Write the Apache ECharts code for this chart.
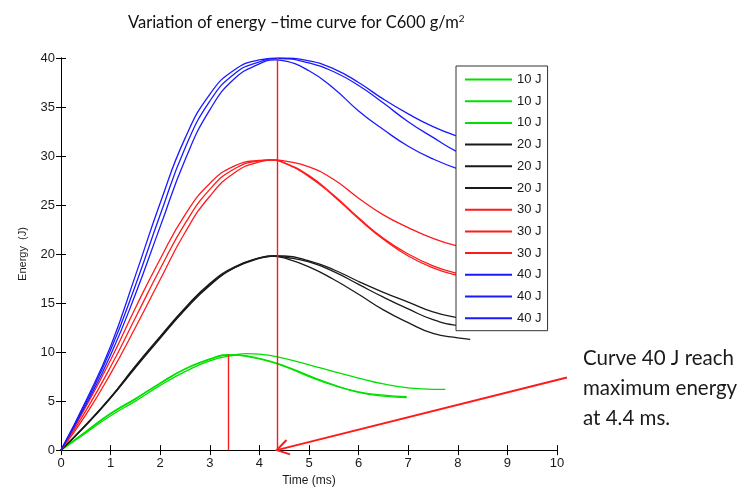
<!DOCTYPE html>
<html><head><meta charset="utf-8">
<script src="https://cdn.jsdelivr.net/npm/echarts@6/dist/echarts.min.js"></script>
<style>html,body{margin:0;padding:0;background:#fff}#c{width:744px;height:492px}</style>
</head><body><div id="c"></div>
<script>
// ---- data (time in ms, energy in J) ----
const green1 = [[0,0],[0.5,1.9],[1,3.75],[1.5,5.25],[2,6.85],[2.5,8.3],[3,9.3],[3.35,9.75],[3.5,9.72],[4,9.3],[4.5,8.55],[5,7.5],[5.5,6.6],[6,5.95],[6.5,5.6],[6.97,5.45]];
const green2 = [[0,0],[0.5,1.85],[1,3.7],[1.5,5.2],[2,6.8],[2.5,8.25],[3,9.25],[3.4,9.7],[3.6,9.68],[4,9.35],[4.5,8.6],[5,7.6],[5.5,6.65],[6,5.9],[6.5,5.5],[6.97,5.35]];
const green3 = [[0,0],[0.5,1.75],[1,3.5],[1.5,5.0],[2,6.6],[2.5,8.0],[3,9.1],[3.5,9.7],[3.75,9.85],[4,9.8],[4.5,9.35],[5,8.7],[5.5,8.0],[6,7.35],[6.5,6.75],[7,6.35],[7.5,6.2],[7.75,6.2]];
const black1 = [[0,0],[0.5,2.6],[1,5.4],[1.5,8.6],[2,11.6],[2.5,14.5],[3,17.0],[3.5,18.7],[4,19.6],[4.3,19.8],[4.5,19.8],[5,19.3],[5.5,18.4],[6,17.2],[6.5,16.1],[7,15.1],[7.5,14.1],[8,13.5],[8.5,13.1]];
const black2 = [[0,0],[0.5,2.55],[1,5.35],[1.5,8.5],[2,11.5],[2.5,14.4],[3,16.9],[3.5,18.6],[4,19.55],[4.3,19.8],[4.5,19.7],[5,19.2],[5.5,18.2],[6,16.9],[6.5,15.6],[7,14.4],[7.5,13.3],[8,12.7],[8.7,12.4]];
const black3 = [[0,0],[0.5,2.5],[1,5.3],[1.5,8.4],[2,11.4],[2.5,14.3],[3,16.8],[3.5,18.6],[4,19.6],[4.25,19.8],[4.5,19.6],[5,18.7],[5.5,17.4],[6,15.9],[6.5,14.3],[7,13.0],[7.5,11.9],[8,11.45],[8.25,11.3]];
const red1 = [[0,0],[0.5,4.4],[1,9.2],[1.5,14.5],[2,19.5],[2.5,24.0],[3,27.2],[3.5,29.0],[4,29.55],[4.2,29.6],[4.5,29.3],[5,28.0],[5.5,26.0],[6,23.7],[6.5,21.6],[7,20.0],[7.5,18.8],[8,18.0],[8.5,17.5]];
const red2 = [[0,0],[0.5,4.0],[1,8.5],[1.5,13.5],[2,18.5],[2.5,23.1],[3,26.6],[3.5,28.7],[4,29.5],[4.25,29.6],[4.5,29.3],[5,27.9],[5.5,25.9],[6,23.6],[6.5,21.5],[7,19.8],[7.5,18.6],[8,17.8],[8.5,17.3]];
const red3 = [[0,0],[0.5,3.6],[1,7.8],[1.5,12.5],[2,17.4],[2.5,22.2],[3,25.9],[3.5,28.3],[4,29.4],[4.3,29.6],[4.5,29.5],[5,28.9],[5.5,27.6],[6,25.7],[6.5,24.0],[7,22.7],[7.5,21.6],[8,20.8],[8.5,20.3]];
const blue1 = [[0,0],[0.5,5.0],[1,10.6],[1.5,17.8],[2,25.2],[2.5,31.8],[3,36.3],[3.5,38.8],[4,39.8],[4.4,40.0],[5,39.7],[5.5,38.9],[6,37.5],[6.5,35.8],[7,34.3],[7.5,33.0],[8,32.0],[8.5,31.2]];
const blue2 = [[0,0],[0.5,4.8],[1,10.2],[1.5,16.8],[2,24.0],[2.5,30.8],[3,35.6],[3.5,38.4],[4,39.6],[4.4,39.95],[5,39.5],[5.5,38.6],[6,37.2],[6.5,35.4],[7,33.5],[7.5,31.9],[8,30.4],[8.5,29.3]];
const blue3 = [[0,0],[0.5,4.6],[1,9.7],[1.5,15.9],[2,22.8],[2.5,29.6],[3,34.7],[3.5,37.9],[4,39.4],[4.3,39.8],[4.5,39.7],[5,38.7],[5.5,36.9],[6,34.6],[6.5,32.7],[7,31.0],[7.5,29.7],[8,28.7],[8.5,28.0]];

const legendNames = ['10 J','10 J','10 J','20 J','20 J','20 J','30 J','30 J','30 J','40 J','40 J','40 J'];
const seriesData = [green1, green2, green3, black1, black2, black3, red1, red2, red3, blue1, blue2, blue3];
const groupColors = ['#00e000','#00e000','#00e000','#1a1a1a','#1a1a1a','#1a1a1a','#ff1a1a','#ff1a1a','#ff1a1a','#1a1aff','#1a1aff','#1a1aff'];

const titleText = 'Variation of energy \u2013time curve for C600 g/m';
const peakTime = 4.35;           // red marker line for 40 J maximum
const greenPeak = [3.37, 9.75];  // red marker line for 10 J maximum
const arrowTail = [10.2, 7.4];
const arrowHead = [4.35, 0];
const noteLines = ['Curve 40 J reach', 'maximum energy', 'at 4.4 ms.'];

// ---- chart ----
const chart = echarts.init(document.getElementById('c'));
const FONT = '"Liberation Sans", Arial, sans-serif';
const series = seriesData.map((d, i) => ({
  name: legendNames[i] + '#' + i,
  type: 'line',
  data: d,
  symbol: 'none',
  showSymbol: false,
  smooth: 0.5,
  lineStyle: { color: groupColors[i], width: 1.3 },
  itemStyle: { color: groupColors[i] },
  z: 2
}));
series[9].markLine = {
  silent: true, symbol: ['none','none'], label: { show: false },
  lineStyle: { color: '#ff1a1a', width: 1.4, type: 'solid' },
  animation: false,
  data: [
    [{ coord: [peakTime, 0] }, { coord: [peakTime, 40] }],
    [{ coord: [greenPeak[0], 0] }, { coord: [greenPeak[0], greenPeak[1]] }]
  ]
};

const axisCommon = {
  type: 'value',
  axisLine: { show: true, lineStyle: { color: '#000', width: 1 } },
  axisTick: { show: true, inside: true, length: 5, lineStyle: { color: '#000' } },
  splitLine: { show: false }
};

chart.setOption({
  animation: false,
  backgroundColor: '#fff',
  title: {
    text: '{a|' + titleText + '}{s|2}',
    left: 123, top: 9,
    textStyle: {
      rich: {
        a: { fontFamily: 'Lato, "Open Sans", sans-serif', fontSize: 16.5, fontWeight: 'normal', color: '#111' },
        s: { fontFamily: 'Lato, "Open Sans", sans-serif', fontSize: 10, fontWeight: 'normal', color: '#111', verticalAlign: 'top', padding: [0,0,8,0] }
      }
    }
  },
  grid: { left: 61, right: 187, top: 58, bottom: 40, containLabel: false },
  legend: {
    orient: 'vertical', left: 456, top: 66,
    padding: [7, 6, 6, 8],
    itemWidth: 47, itemHeight: 14, itemGap: 8.7,
    backgroundColor: '#fff', borderColor: '#333', borderWidth: 1,
    formatter: n => n.split('#')[0],
    itemStyle: { opacity: 0 },
    textStyle: { fontFamily: FONT, fontSize: 13, color: '#1a1a1a' },
    selectedMode: false,
    z: 10
  },
  xAxis: [
    Object.assign({}, axisCommon, {
      min: 0, max: 10, interval: 1, position: 'bottom',
      axisLabel: { color: '#1a1a1a', fontSize: 13, fontFamily: FONT, margin: 7 },
      name: 'Time (ms)', nameLocation: 'middle', nameGap: 24,
      nameTextStyle: { fontFamily: FONT, fontSize: 12, color: '#1a1a1a' }
    }),
    Object.assign({}, axisCommon, {
      min: 0, max: 10, interval: 1, position: 'top', axisLabel: { show: false }
    })
  ],
  yAxis: [
    Object.assign({}, axisCommon, {
      min: 0, max: 40, interval: 5, position: 'left',
      axisLabel: { color: '#1a1a1a', fontSize: 13, fontFamily: FONT, margin: 6 },
      name: 'Energy  (J)', nameLocation: 'middle', nameGap: 33, nameRotate: 90,
      nameTextStyle: { fontFamily: FONT, fontSize: 11, color: '#1a1a1a' }
    }),
    Object.assign({}, axisCommon, {
      min: 0, max: 40, interval: 5, position: 'right', axisLabel: { show: false }
    })
  ],
  series: series
});

// annotation arrow + text
const tail = chart.convertToPixel({ xAxisIndex: 0, yAxisIndex: 0 }, arrowTail);
const head = chart.convertToPixel({ xAxisIndex: 0, yAxisIndex: 0 }, arrowHead);
const dx = tail[0] - head[0], dy = tail[1] - head[1];
const L = Math.hypot(dx, dy), ux = dx / L, uy = dy / L;
const ang = 32 * Math.PI / 180, wl = 14;
function rot(x, y, a) { return [x * Math.cos(a) - y * Math.sin(a), x * Math.sin(a) + y * Math.cos(a)]; }
const w1 = rot(ux, uy, ang), w2 = rot(ux, uy, -ang);
chart.setOption({
  graphic: [
    { type: 'line', shape: { x1: tail[0], y1: tail[1], x2: head[0], y2: head[1] }, style: { stroke: '#ff1a1a', lineWidth: 2 }, z: 20 },
    { type: 'polyline', shape: { points: [[head[0] + w1[0] * wl, head[1] + w1[1] * wl], head, [head[0] + w2[0] * wl, head[1] + w2[1] * wl]] }, style: { stroke: '#ff1a1a', lineWidth: 2, fill: null }, z: 20 },
    { type: 'text', left: 583, top: 343, style: { text: noteLines.join('\n'), font: '20.5px Lato, "Open Sans", sans-serif', lineHeight: 30, fill: '#1a1a1a' }, z: 20 }
  ]
});
</script>
</body></html>
